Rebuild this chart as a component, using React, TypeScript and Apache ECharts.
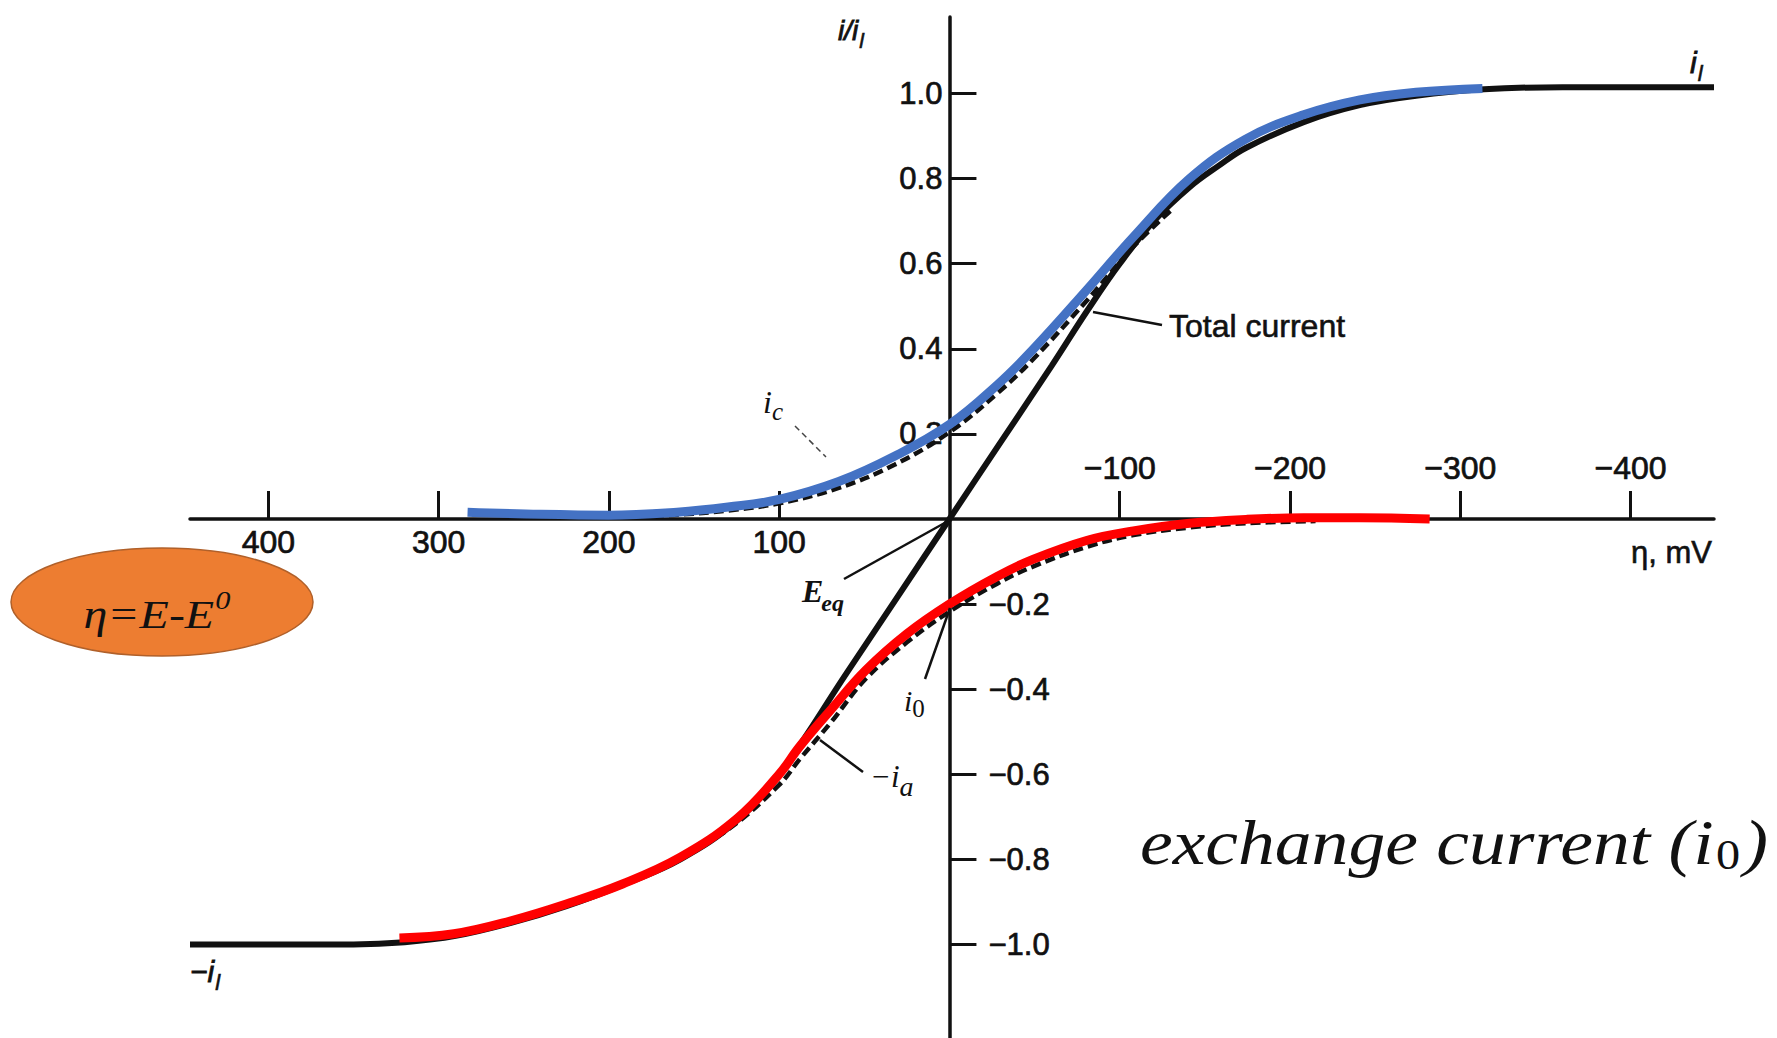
import React, { useEffect, useRef } from 'react';
import * as echarts from 'echarts';

// ---------- tick values ----------
const etaLabelsBelow = [400, 300, 200, 100];
const etaLabelsAbove = [-100, -200, -300, -400];
const yLabelsLeft = [1.0, 0.8, 0.6, 0.4, 0.2];
const yLabelsRight = [-0.2, -0.4, -0.6, -0.8, -1.0];

// axis ranges
const ETA_MIN = -449;
const ETA_MAX = 446;
const Y_MIN = -1.22;
const Y_MAX = 1.18;

// ---------- curves (η in mV, i/i_l) ----------
const totalEta = [446, 400, 350, 320, 290, 258, 225, 192, 158, 125, 100, 60, 30, 0, -30, -60, -81, -100, -120, -141, -158, -174, -208, -241, -274, -314, -360, -449];
const totalVal = [-1.0, -1.0, -1.0, -0.995, -0.98, -0.95, -0.91, -0.86, -0.8, -0.71, -0.6, -0.36, -0.18, 0, 0.18, 0.36, 0.49, 0.6, 0.7, 0.78, 0.83, 0.872, 0.933, 0.973, 0.995, 1.01, 1.015, 1.015];

const icEta = [283, 240, 200, 160, 130, 100, 65, 32, 0, -28, -49, -81, -108, -141, -174, -208, -241, -274, -313];
const icVal = [0.016, 0.011, 0.009, 0.016, 0.028, 0.046, 0.088, 0.148, 0.222, 0.315, 0.398, 0.54, 0.663, 0.8, 0.893, 0.95, 0.985, 1.003, 1.012];

const icDashEta = [200, 160, 130, 100, 65, 32, 0, -28, -49, -81, -108, -130];
const icDashVal = [0.003, 0.01, 0.02, 0.037, 0.073, 0.128, 0.204, 0.295, 0.375, 0.515, 0.64, 0.725];

const iaEta = [323, 291, 258, 225, 192, 158, 125, 100, 88, 70, 49, 25, 0, -28, -49, -81, -108, -141, -174, -208, -241, -282];
const iaVal = [-0.985, -0.975, -0.945, -0.905, -0.858, -0.795, -0.705, -0.6, -0.535, -0.45, -0.355, -0.27, -0.2, -0.135, -0.095, -0.05, -0.028, -0.01, -0.001, 0.003, 0.003, 0.0];

const iaDashEta = [160, 130, 100, 88, 70, 49, 25, 0, -28, -49, -81, -108, -141, -174, -215];
const iaDashVal = [-0.8, -0.73, -0.625, -0.565, -0.48, -0.375, -0.29, -0.218, -0.152, -0.112, -0.065, -0.038, -0.02, -0.01, -0.005];

const INK = '#111';
const SANS = '"Liberation Sans", Arial, sans-serif';
const SERIF = '"Liberation Serif", "Times New Roman", serif';

const zip = (xs: number[], ys: number[]) => xs.map((x, i) => [x, ys[i]]);

let measureCtx: CanvasRenderingContext2D | null = null;
function textWidth(t: string, font: string) {
  if (!measureCtx) measureCtx = document.createElement('canvas').getContext('2d');
  measureCtx!.font = font;
  return measureCtx!.measureText(t).width;
}

type Part = { t: string; font: string; dy?: number; dx?: number; fill?: string; bold?: number };
function compound(x: number, y: number, parts: Part[], opts: { scaleX?: number; align?: 'left' | 'right' | 'center' } = {}) {
  let cx = 0;
  const children: any[] = parts.map((p) => {
    cx += p.dx || 0;
    const el = {
      type: 'text',
      x: cx,
      y: p.dy || 0,
      z: 100,
      style: {
        text: p.t,
        font: p.font,
        fill: p.fill || INK,
        stroke: p.bold ? p.fill || INK : undefined,
        lineWidth: p.bold || 0,
        textAlign: 'left',
        align: 'left',
        textVerticalAlign: 'middle',
        verticalAlign: 'middle',
      },
    };
    cx += textWidth(p.t, p.font);
    return el;
  });
  const off = opts.align === 'right' ? -cx : opts.align === 'center' ? -cx / 2 : 0;
  children.forEach((c) => (c.x += off));
  return { type: 'group', x, y, scaleX: opts.scaleX || 1, z: 100, children };
}

function leader(x1: number, y1: number, x2: number, y2: number, dashed = false) {
  return {
    type: 'line',
    z: 100,
    shape: { x1, y1, x2, y2 },
    style: dashed
      ? { stroke: '#444', lineWidth: 1.5, lineDash: [6, 4] }
      : { stroke: INK, lineWidth: 2.5 },
  };
}

export default function App() {
  const ref = useRef<HTMLDivElement>(null);
  useEffect(() => {
    if (!ref.current) return;
    const chart = echarts.init(ref.current, null, { renderer: 'svg' });

    const G = { left: 190, top: 17, width: 1524, height: 1021 };
    // distance of the zero lines from each grid edge (axes are drawn on the zero lines)
    const zeroFromBottom = (G.height * (0 - Y_MIN)) / (Y_MAX - Y_MIN);
    const zeroFromTop = G.height - zeroFromBottom;
    const zeroFromLeft = (G.width * (ETA_MAX - 0)) / (ETA_MAX - ETA_MIN); // inverse axis
    const zeroFromRight = G.width - zeroFromLeft;

    const axisLineStyle = { color: INK, width: 3.5 };
    const heavy = { textBorderColor: INK, textBorderWidth: 0.7 };
    const xLabelStyle = { color: INK, fontFamily: SANS, fontSize: 32, ...heavy };
    const yLabelStyle = { color: INK, fontFamily: SANS, fontSize: 31, ...heavy };
    const option: any = {
      animation: false,
      backgroundColor: '#ffffff',
      grid: { ...G, containLabel: false, outerBoundsMode: 'none' },
      xAxis: [
        {
          type: 'value',
          min: ETA_MIN,
          max: ETA_MAX,
          inverse: true,
          position: 'bottom',
          offset: -zeroFromBottom,
          axisLine: { show: true, onZero: false, lineStyle: axisLineStyle },
          axisTick: { show: true, inside: true, length: 28, customValues: etaLabelsBelow, lineStyle: { color: INK, width: 3 } },
          axisLabel: { show: true, customValues: etaLabelsBelow, margin: 7, ...xLabelStyle, formatter: (v: number) => String(v) },
          splitLine: { show: false },
        },
        {
          type: 'value',
          min: ETA_MIN,
          max: ETA_MAX,
          inverse: true,
          position: 'top',
          offset: -zeroFromTop,
          axisLine: { show: false, onZero: false },
          axisTick: { show: true, inside: false, length: 28, customValues: etaLabelsAbove, lineStyle: { color: INK, width: 3 } },
          axisLabel: { show: true, customValues: etaLabelsAbove, margin: 35, ...xLabelStyle, formatter: (v: number) => '\u2212' + Math.abs(v) },
          splitLine: { show: false },
        },
      ],
      yAxis: [
        {
          type: 'value',
          min: Y_MIN,
          max: Y_MAX,
          position: 'left',
          offset: -zeroFromLeft,
          axisLine: { show: true, onZero: false, lineStyle: axisLineStyle },
          axisTick: { show: true, inside: true, length: 27, customValues: [...yLabelsLeft, ...yLabelsRight], lineStyle: { color: INK, width: 3 } },
          axisLabel: { show: true, customValues: yLabelsLeft, margin: 7, ...yLabelStyle, formatter: (v: number) => v.toFixed(1) },
          splitLine: { show: false },
        },
        {
          type: 'value',
          min: Y_MIN,
          max: Y_MAX,
          position: 'right',
          offset: -zeroFromRight,
          axisLine: { show: false, onZero: false },
          axisTick: { show: false },
          axisLabel: { show: true, customValues: yLabelsRight, margin: 39, ...yLabelStyle, formatter: (v: number) => '\u2212' + Math.abs(v).toFixed(1) },
          splitLine: { show: false },
        },
      ],
      series: [
        {
          name: 'Total current',
          type: 'line',
          xAxisIndex: 0,
          yAxisIndex: 0,
          data: zip(totalEta, totalVal),
          smooth: 0.4,
          symbol: 'none',
          silent: true,
          lineStyle: { color: INK, width: 6 },
          z: 2,
        },
        {
          name: 'ic dashed',
          type: 'line',
          data: zip(icDashEta, icDashVal),
          smooth: 0.4,
          symbol: 'none',
          silent: true,
          lineStyle: { color: INK, width: 4.5, type: [10, 5] },
          z: 3,
        },
        {
          name: '-ia dashed',
          type: 'line',
          data: zip(iaDashEta, iaDashVal),
          smooth: 0.4,
          symbol: 'none',
          silent: true,
          lineStyle: { color: INK, width: 4.5, type: [10, 5] },
          z: 3,
        },
        {
          name: 'ic',
          type: 'line',
          data: zip(icEta, icVal),
          smooth: 0.4,
          symbol: 'none',
          silent: true,
          lineStyle: { color: '#4472C4', width: 9, cap: 'butt' },
          z: 4,
        },
        {
          name: '-ia',
          type: 'line',
          data: zip(iaEta, iaVal),
          smooth: 0.4,
          symbol: 'none',
          silent: true,
          lineStyle: { color: '#FF0000', width: 9, cap: 'butt' },
          z: 4,
        },
      ],
      graphic: [
        // y-axis name i/i_l
        compound(838, 30, [
          { t: 'i/i', font: `italic 28px ${SANS}`, bold: 0.8 },
          { t: 'l', font: `italic 21px ${SANS}`, dy: 10, dx: 1, bold: 0.6 },
        ]),
        // i_l top right
        compound(1690, 62, [
          { t: 'i', font: `italic 30px ${SANS}`, bold: 0.8 },
          { t: 'l', font: `italic 22px ${SANS}`, dy: 11, dx: 1, bold: 0.6 },
        ]),
        // -i_l bottom left
        compound(190, 971, [
          { t: '\u2212i', font: `italic 30px ${SANS}`, bold: 0.8 },
          { t: 'l', font: `italic 22px ${SANS}`, dy: 11, dx: 1, bold: 0.6 },
        ]),
        // Total current
        leader(1093, 312, 1162, 325),
        compound(1169, 326, [{ t: 'Total current', font: `32px ${SANS}`, bold: 0.6 }]),
        // i_c
        leader(795, 426, 826, 457, true),
        compound(763, 402, [
          { t: 'i', font: `italic 32px ${SERIF}` },
          { t: 'c', font: `italic 25px ${SERIF}`, dy: 9, dx: 0 },
        ]),
        // E_eq
        leader(844, 579, 950, 520),
        compound(802, 591, [
          { t: 'E', font: `italic bold 32px ${SERIF}` },
          { t: 'eq', font: `italic bold 24px ${SERIF}`, dy: 12, dx: -2 },
        ]),
        // i_0
        leader(925, 679, 950, 608),
        compound(904, 700, [
          { t: 'i', font: `italic 30px ${SERIF}` },
          { t: '0', font: `25px ${SERIF}`, dy: 8, dx: 0 },
        ]),
        // -i_a
        leader(820, 740, 863, 772),
        compound(870, 776, [
          { t: '\u2212i', font: `italic 31px ${SERIF}` },
          { t: 'a', font: `italic 28px ${SERIF}`, dy: 10, dx: 0 },
        ]),
        // axis name η, mV
        compound(1712, 552, [{ t: '\u03b7, mV', font: `31px ${SANS}`, bold: 0.6 }], { align: 'right' }),
        // orange ellipse with η = E - E0
        {
          type: 'ellipse',
          z: 90,
          shape: { cx: 162, cy: 602, rx: 151, ry: 54 },
          style: { fill: '#ED7D31', stroke: '#B0602A', lineWidth: 1.5 },
        },
        compound(
          157,
          614,
          [
            { t: '\u03b7=E-E', font: `italic 41px ${SERIF}` },
            { t: '0', font: `italic 26px ${SERIF}`, dy: -14, dx: 1 },
          ],
          { align: 'center', scaleX: 1.17 }
        ),
        // exchange current (i0)
        compound(
          1768,
          843,
          [
            { t: 'exchange current (', font: `italic 64px ${SERIF}` },
            { t: 'i', font: `italic 64px ${SERIF}` },
            { t: '0', font: `42px ${SERIF}`, dy: 12, dx: 2 },
            { t: ')', font: `italic 64px ${SERIF}`, dx: 3 },
          ],
          { align: 'right', scaleX: 1.15 }
        ),
      ],
    };
    chart.setOption(option);
    return () => chart.dispose();
  }, []);
  return (
    <div
      ref={ref}
      style={{ position: 'fixed', left: 0, top: 0, width: 1777, height: 1038, background: '#fff' }}
    />
  );
}
